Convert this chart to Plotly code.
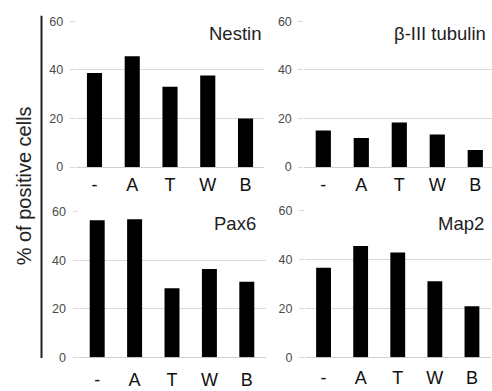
import plotly.graph_objects as go

W, H = 492, 391

categories = ["-", "A", "T", "W", "B"]
nestin = [38.8, 45.7, 33.1, 37.7, 20.0]
tubulin = [15.1, 12.0, 18.4, 13.4, 7.0]
pax6 = [56.5, 56.9, 28.5, 36.4, 31.1]
map2 = [36.7, 45.6, 43.0, 31.2, 20.9]
panel_titles = ["Nestin", "β-III tubulin", "Pax6", "Map2"]
y_ticks = [0, 20, 40, 60]
y_title = "% of positive cells"

FONT = "Liberation Sans, Arial, sans-serif"

def px_x(p):
    return p / W

def px_y(p):
    return 1 - p / H

panels = [
    # (values, x0px, x1px, ytop px, ybottom px, xrange, label standoff)
    (nestin, 75.6, 264.4, 15, 166, [-0.5, 4.5], 5),
    (tubulin, 304.3, 492, 15, 166, [-0.5, 4.44], 5),
    (pax6, 78.5, 265.5, 212.3, 363.3, [-0.5, 4.5], 10),
    (map2, 305, 490.5, 211.5, 363.3, [-0.5, 4.5], 8),
]

fig = go.Figure()
layout = dict(
    width=W, height=H, margin=dict(l=0, r=0, t=0, b=0),
    paper_bgcolor="white", plot_bgcolor="white",
    showlegend=False, bargap=0.6,
    font=dict(family=FONT, color="#000"),
)

for i, (vals, x0, x1, yt, yb, xr, so) in enumerate(panels):
    n = "" if i == 0 else str(i + 1)
    fig.add_trace(go.Bar(x=categories, y=vals, marker=dict(color="black", line=dict(width=0)),
                         xaxis="x" + n, yaxis="y" + n))
    layout["xaxis" + n] = dict(
        domain=[px_x(x0), px_x(x1)], anchor="y" + n, range=xr,
        showgrid=False, showline=False, zeroline=False,
        ticks="", tickfont=dict(size=18, color="#111", family=FONT),
        ticklabelstandoff=so, fixedrange=True,
    )
    layout["yaxis" + n] = dict(
        domain=[px_y(yb), px_y(yt)], anchor="x" + n, range=[0, 60],
        tickvals=y_ticks, showgrid=True, gridcolor="#d9d9d9", gridwidth=1,
        zeroline=True, zerolinecolor="#cfcfcf", zerolinewidth=1,
        showline=False, ticks="outside", ticklen=5, tickcolor="#d9d9d9",
        tickfont=dict(size=12.5, color="#4a4a4a", family=FONT),
        ticklabelstandoff=4, fixedrange=True,
    )

annotations = []
title_pos = [(263, 28), (488, 28), (258, 224.5), (486, 224.5)]
for t, (xr, yc) in zip(panel_titles, title_pos):
    annotations.append(dict(
        text=t, x=px_x(xr), y=px_y(yc), xref="paper", yref="paper",
        xanchor="right", yanchor="middle", showarrow=False,
        font=dict(size=18.5, color="#222", family=FONT),
    ))
annotations.append(dict(
    text=y_title, x=px_x(24), y=px_y(186), xref="paper", yref="paper",
    xanchor="center", yanchor="middle", textangle=-90, showarrow=False,
    font=dict(size=20, color="#222", family=FONT),
))
layout["annotations"] = annotations
layout["shapes"] = [dict(
    type="line", xref="paper", yref="paper",
    x0=px_x(41.5), x1=px_x(41.5), y0=px_y(364), y1=px_y(9),
    line=dict(color="#222", width=2),
)]

fig.update_layout(**layout)
fig.write_html("out.html", config={"displayModeBar": False},
               post_script="document.body.style.margin='0';document.body.style.overflow='hidden';")
